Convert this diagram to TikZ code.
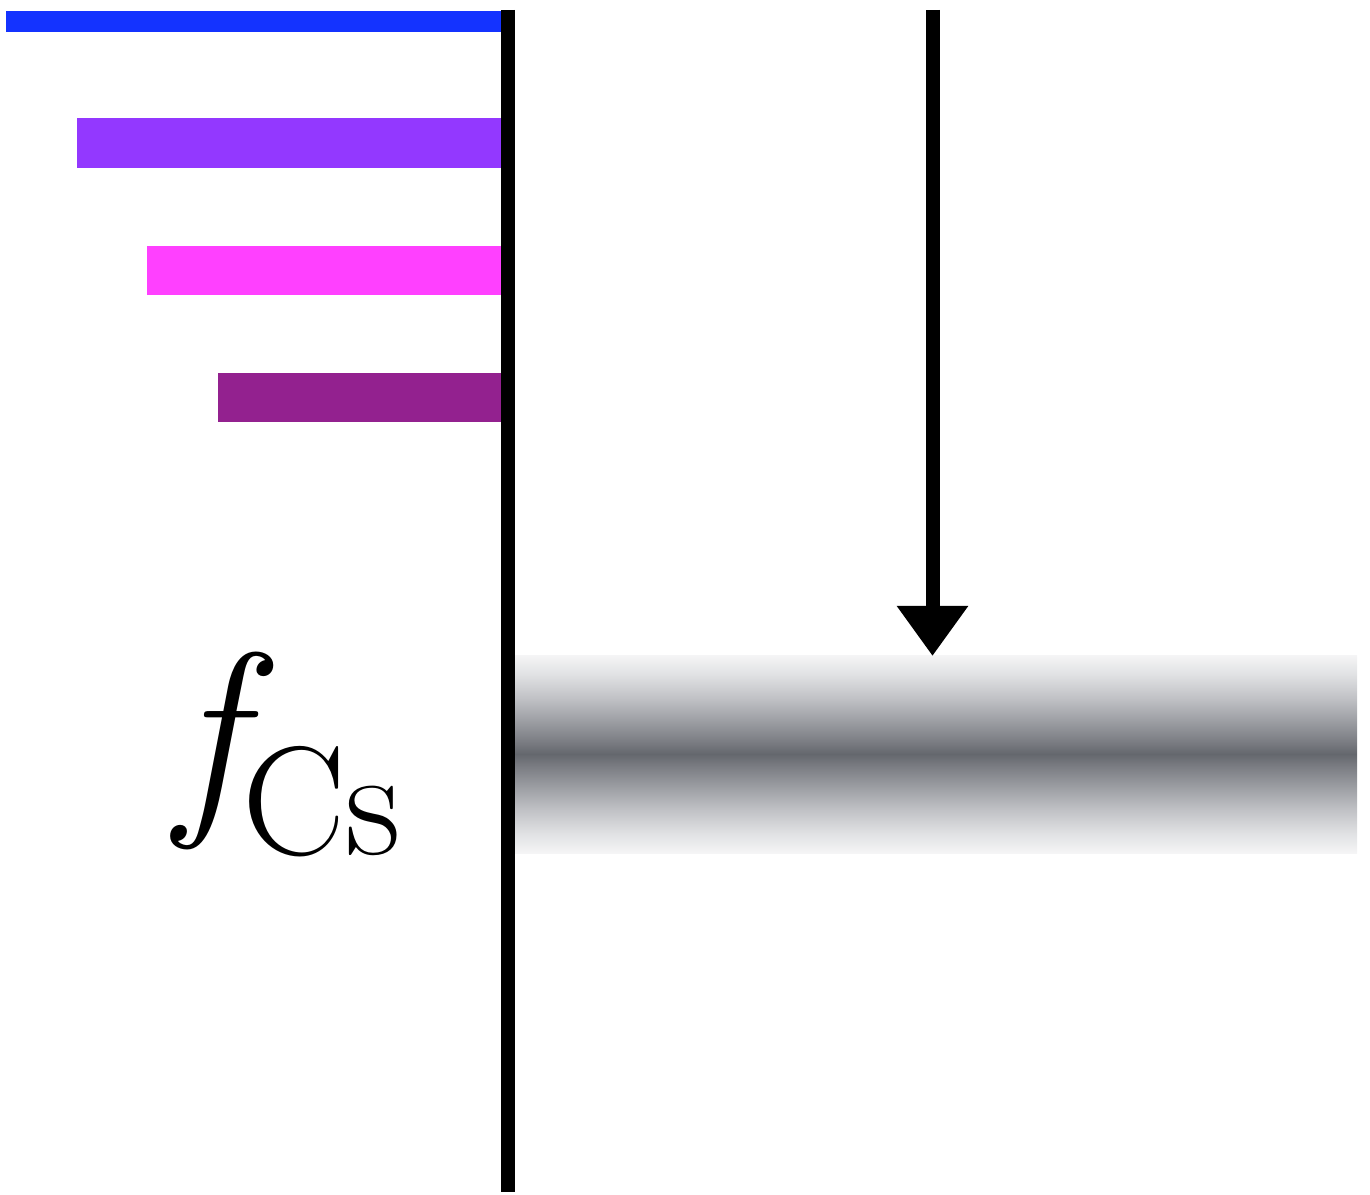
\documentclass[tikz,border=0pt]{standalone}
\usetikzlibrary{arrows.meta}
\definecolor{cblue}{RGB}{20,51,255}
\definecolor{cpurple}{RGB}{147,56,255}
\definecolor{cmagenta}{RGB}{255,64,255}
\definecolor{cdpurple}{RGB}{147,33,143}
\definecolor{g0}{RGB}{245,245,246}
\definecolor{g1}{RGB}{224,225,227}
\definecolor{g2}{RGB}{192,193,197}
\definecolor{g3}{RGB}{154,156,161}
\definecolor{g4}{RGB}{122,124,130}
\definecolor{g5}{RGB}{100,103,109}
\pgfdeclareverticalshading{bandshade}{100bp}{%
 color(0bp)=(g0); color(25bp)=(g0); color(30bp)=(g1); color(36bp)=(g2); color(42bp)=(g3); color(47bp)=(g4); color(50bp)=(g5);
 color(53bp)=(g4); color(58bp)=(g3); color(64bp)=(g2); color(70bp)=(g1); color(75bp)=(g0); color(100bp)=(g0)}
\tikzset{
  bar/.style={fill=#1, draw=none},
  axisline/.style={line width=0.14cm, black},
  probe/.style={line width=0.14cm, black, -{Triangle[width=0.68cm,length=0.50cm]}},
}
\begin{document}
\begin{tikzpicture}[x=0.01cm,y=-0.01cm]
\useasboundingbox (0,0) rectangle (1370,1194);
% bars
\fill[bar=cblue] (6,11) rectangle (508,32);
\fill[bar=cpurple] (77,118) rectangle (508,168);
\fill[bar=cmagenta] (147,246) rectangle (508,295);
\fill[bar=cdpurple] (218,373) rectangle (508,422);
% gradient band
\shade[shading=bandshade] (515,655) rectangle (1357,853);
% vertical axis line
\coordinate (ltop) at (508,10);
\coordinate (lbot) at (508,1192);
\draw[axisline] (ltop) -- (lbot);
% arrow
\coordinate (atop) at (932.5,10);
\coordinate (atip) at (932.5,656);
\draw[probe] (atop) -- (atip);
% label
\node[anchor=base west, inner sep=0pt] (lab) at (176,805)
  {\fontsize{62}{62}\selectfont\itshape f\upshape\raisebox{-14pt}{\fontsize{44}{44}\selectfont Cs}};
\end{tikzpicture}
\end{document}
